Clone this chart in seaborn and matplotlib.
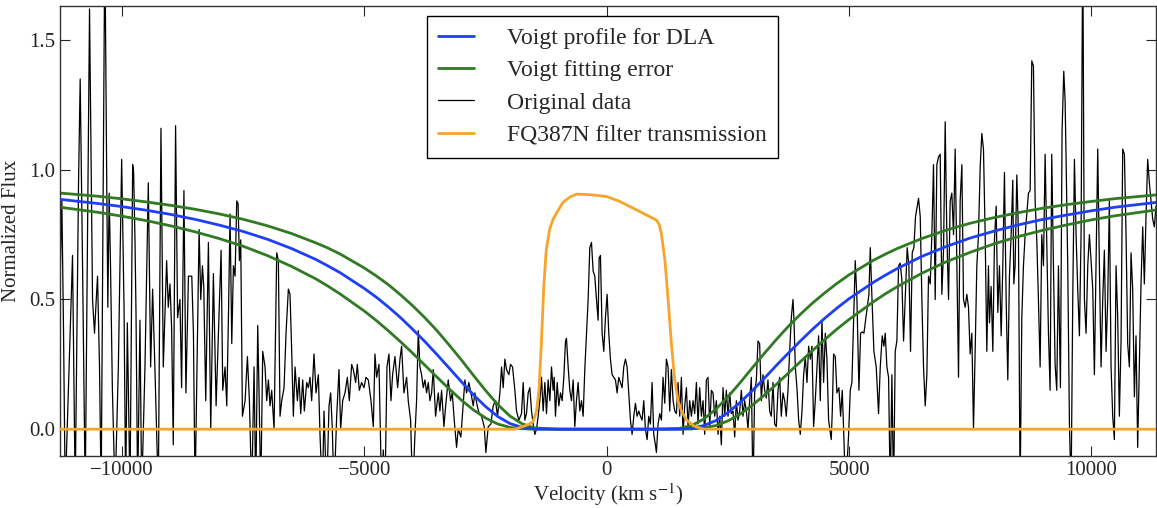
import numpy as np
import matplotlib
matplotlib.use("Agg")
import matplotlib.pyplot as plt
import seaborn as sns

# model curve samples (velocity in km/s)
model_vel = [-11330, -10500, -10000, -9500, -9000, -8500, -8000, -7500, -7000, -6500,
             -6000, -5750, -5500, -5000, -4750, -4500, -4250, -4000, -3750, -3500,
             -3250, -3000, -2750, -2500, -2250, -2000, -1750, -1500, -1000, 0,
             1000, 1500, 1750, 2000, 2250, 2500, 2750, 3000, 3250, 3500,
             3750, 4000, 4250, 4500, 4750, 5000, 5500, 5750, 6000, 6500,
             7000, 7500, 8000, 8500, 9000, 9500, 10000, 10500, 11330]
voigt_flux = [0.887, 0.870, 0.858, 0.844, 0.828, 0.809, 0.787, 0.762, 0.732, 0.696,
              0.654, 0.629, 0.603, 0.542, 0.508, 0.470, 0.429, 0.384, 0.337, 0.287,
              0.235, 0.183, 0.132, 0.087, 0.049, 0.022, 0.007, 0.001, 0.0, 0.0,
              0.0, 0.0005, 0.004, 0.014, 0.033, 0.064, 0.103, 0.148, 0.196, 0.246,
              0.294, 0.341, 0.386, 0.428, 0.467, 0.503, 0.566, 0.594, 0.620, 0.666,
              0.704, 0.737, 0.764, 0.788, 0.809, 0.826, 0.842, 0.856, 0.874]
err_hi = [0.911, 0.898, 0.888, 0.876, 0.863, 0.848, 0.830, 0.809, 0.784, 0.754,
          0.718, 0.698, 0.675, 0.621, 0.590, 0.556, 0.517, 0.475, 0.429, 0.379,
          0.324, 0.267, 0.207, 0.149, 0.095, 0.051, 0.021, 0.005, 0.0, 0.0,
          0.0, 0.003, 0.014, 0.039, 0.077, 0.125, 0.179, 0.236, 0.292, 0.346,
          0.397, 0.444, 0.487, 0.526, 0.562, 0.595, 0.651, 0.675, 0.697, 0.735,
          0.767, 0.794, 0.816, 0.835, 0.852, 0.866, 0.878, 0.889, 0.903]
err_lo = [0.857, 0.836, 0.821, 0.804, 0.784, 0.761, 0.735, 0.705, 0.669, 0.627,
          0.579, 0.551, 0.521, 0.455, 0.418, 0.378, 0.336, 0.292, 0.246, 0.200,
          0.155, 0.112, 0.074, 0.043, 0.020, 0.007, 0.002, 0.0, 0.0, 0.0,
          0.0, 0.0, 0.001, 0.005, 0.014, 0.032, 0.058, 0.092, 0.131, 0.173,
          0.217, 0.261, 0.304, 0.346, 0.386, 0.423, 0.491, 0.522, 0.550, 0.601,
          0.645, 0.682, 0.715, 0.743, 0.767, 0.788, 0.807, 0.823, 0.845]

# FQ387N filter curve
filt_vel = [-11330, -1900, -1700, -1600, -1520, -1450, -1400, -1350, -1300, -1250,
            -1180, -1107, -1000, -900, -760, -625, -450, -282, -7, 268,
            543, 818, 1024, 1080, 1127, 1200, 1265, 1333, 1402, 1470,
            1540, 1650, 1800, 2000, 11330]
filt_flux = [0.0, 0.0, 0.012, 0.02, 0.03, 0.07, 0.15, 0.33, 0.55, 0.69,
             0.77, 0.81, 0.845, 0.875, 0.895, 0.906, 0.905, 0.903, 0.897, 0.878,
             0.852, 0.826, 0.806, 0.79, 0.754, 0.65, 0.50, 0.33, 0.19, 0.11,
             0.07, 0.035, 0.012, 0.0, 0.0]

# original spectrum (values below -0.1 / above 1.63 are off the plot)
data_vel = [
    -11279, -11245, -11210, -11176, -11025, -10970, -10901, -10867, -10818, -10763,
    -10674, -10612, -10571, -10544, -10509, -10468, -10434, -10358, -10317, -10296,
    -10269, -10241, -10203, -10148, -10079, -10011, -9962, -9928, -9894, -9839,
    -9784, -9764, -9736, -9715, -9681, -9633, -9598, -9530, -9461, -9413,
    -9372, -9324, -9255, -9200, -9152, -9083, -9049, -9014, -8980, -8946,
    -8898, -8857, -8808, -8774, -8726, -8685, -8633, -8564, -8530, -8496,
    -8413, -8379, -8344, -8317, -8276, -8221, -8173, -8118, -8062, -8014,
    -7959, -7925, -7877, -7842, -7808, -7774, -7739, -7705, -7671, -7636,
    -7609, -7581, -7554, -7519, -7464, -7416, -7375, -7327, -7279, -7244,
    -7203, -7176, -7141, -7100, -7052, -7018, -6983, -6949, -6915, -6866,
    -6811, -6777, -6743, -6708, -6660, -6619, -6571, -6537, -6502, -6468,
    -6433, -6385, -6351, -6316, -6275, -6241, -6193, -6158, -6124, -6090,
    -6042, -6000, -5952, -5918, -5870, -5835, -5781, -5732, -5698, -5664,
    -5629, -5574, -5526, -5492, -5450, -5402, -5354, -5313, -5265, -5231,
    -5182, -5148, -5107, -5059, -5011, -4969, -4921, -4866, -4818, -4784,
    -4749, -4701, -4646, -4612, -4578, -4536, -4495, -4454, -4420, -4371,
    -4316, -4268, -4234, -4186, -4131, -4097, -4048, -4007, -3959, -3925,
    -3890, -3856, -3822, -3787, -3753, -3719, -3684, -3650, -3615, -3581,
    -3533, -3478, -3444, -3409, -3361, -3320, -3272, -3224, -3189, -3148,
    -3100, -3066, -3011, -2962, -2928, -2894, -2846, -2804, -2756, -2722,
    -2674, -2633, -2584, -2529, -2495, -2447, -2392, -2344, -2296, -2255,
    -2206, -2172, -2138, -2103, -2069, -2021, -1987, -1945, -1897, -1863,
    -1815, -1760, -1725, -1691, -1657, -1622, -1588, -1553, -1519, -1485,
    -1450, -1416, -1382, -1347, -1313, -1278, -1244, -1210, -1175, -1141,
    -1107, -1086, -1059, -1024, -990, -955, -921, -887, -852, -832,
    -797, -763, -729, -694, -660, -626, -591, -557, -522, -488,
    -454, -419, -385, -351, -316, -282, -248, -213, -179, -158,
    -131, -96, -62, -28, 7, 41, 75, 110, 144, 179,
    213, 247, 282, 316, 350, 385, 419, 453, 488, 522,
    557, 591, 625, 660, 694, 728, 763, 797, 832, 866,
    900, 935, 969, 1003, 1024, 1058, 1093, 1127, 1161, 1196,
    1230, 1264, 1299, 1333, 1368, 1402, 1436, 1471, 1505, 1539,
    1574, 1608, 1643, 1677, 1711, 1746, 1780, 1814, 1849, 1883,
    1917, 1952, 1986, 2021, 2055, 2089, 2124, 2158, 2192, 2227,
    2261, 2296, 2330, 2364, 2399, 2433, 2467, 2502, 2536, 2570,
    2605, 2639, 2673, 2708, 2742, 2777, 2811, 2845, 2880, 2914,
    2948, 2983, 3017, 3051, 3086, 3120, 3154, 3189, 3223, 3258,
    3292, 3326, 3361, 3395, 3430, 3464, 3498, 3533, 3567, 3601,
    3636, 3670, 3704, 3739, 3773, 3808, 3842, 3863, 3890, 3924,
    3959, 3993, 4028, 4062, 4096, 4131, 4165, 4199, 4234, 4268,
    4302, 4337, 4371, 4405, 4440, 4474, 4509, 4543, 4577, 4632,
    4653, 4680, 4715, 4749, 4790, 4825, 4859, 4894, 4928, 4990,
    5024, 5058, 5093, 5127, 5162, 5203, 5237, 5272, 5306, 5340,
    5375, 5409, 5437, 5471, 5512, 5560, 5608, 5643, 5684, 5718,
    5746, 5780, 5815, 5849, 5883, 5918, 5952, 5986, 6021, 6055,
    6089, 6124, 6165, 6199, 6234, 6268, 6303, 6337, 6371, 6406,
    6433, 6468, 6502, 6536, 6571, 6605, 6639, 6674, 6708, 6742,
    6777, 6811, 6846, 6880, 6914, 6949, 6983, 7017, 7052, 7086,
    7120, 7155, 7189, 7224, 7258, 7292, 7327, 7361, 7395, 7430,
    7464, 7498, 7533, 7567, 7601, 7636, 7670, 7705, 7739, 7773,
    7808, 7842, 7876, 7897, 7931, 7966, 8000, 8035, 8069, 8103,
    8138, 8172, 8206, 8241, 8275, 8309, 8344, 8378, 8399, 8426,
    8461, 8495, 8529, 8564, 8598, 8633, 8667, 8701, 8736, 8770,
    8804, 8839, 8873, 8907, 8942, 8976, 9011, 9045, 9079, 9114,
    9148, 9182, 9217, 9251, 9285, 9320, 9361, 9395, 9430, 9457,
    9478, 9512, 9547, 9581, 9615, 9650, 9684, 9718, 9753, 9787,
    9822, 9856, 9890, 9925, 9959, 9993, 10028, 10062, 10096, 10131,
    10165, 10200, 10234, 10268, 10303, 10337, 10371, 10406, 10440, 10474,
    10509, 10543, 10577, 10612, 10646, 10681, 10715, 10749, 10784, 10818,
    10852, 10887, 10921, 10955, 10990, 11024, 11059, 11093, 11127, 11162,
    11196, 11230, 11265, 11299, 11334,
]
data_flux = [
    0.59, 0.88, 0.37, -0.25, 0.67, -0.25, 0.95, 1.35, 0.63, -0.25,
    1.62, 0.50, 0.37, 0.47, 0.59, 0.24, -0.25, 1.90, 0.90, 0.47,
    0.91, 0.63, 0.16, -0.25, 0.24, 1.04, 0.47, -0.25, 0.41, -0.25,
    1.02, 0.99, 0.73, 0.45, -0.25, 0.42, -0.25, 0.24, 0.95, 0.24,
    0.54, 0.23, -0.25, 1.16, 0.24, 0.65, 0.47, 0.56, 0.39, -0.06,
    1.17, 0.43, 0.50, 0.16, 0.92, 0.14, 0.59, 0.59, 0.37, -0.25,
    0.77, 0.50, 0.63, 0.55, 0.11, 0.72, 0.00, 0.60, 0.09, 0.37,
    0.69, 0.15, 0.24, 0.09, 0.43, 0.83, 0.33, 0.63, 0.59, 0.88,
    0.87, 0.65, 0.73, 0.05, 0.11, 0.28, 0.11, -0.25, 0.24, -0.25,
    0.40, 0.14, -0.25, 0.30, 0.24, 0.11, 0.19, 0.09, 0.15, 0.00,
    0.68, 0.65, 0.05, 0.11, 0.16, 0.37, 0.54, 0.52, 0.30, 0.05,
    0.24, 0.11, 0.20, 0.06, 0.19, 0.07, 0.18, 0.16, 0.20, 0.11,
    0.29, 0.14, 0.21, -0.02, -0.25, 0.07, -0.25, 0.09, 0.14, 0.00,
    -0.25, 0.05, 0.23, 0.00, 0.11, 0.14, 0.20, 0.11, 0.25, 0.23,
    0.18, 0.25, 0.15, 0.18, 0.16, 0.20, 0.19, 0.11, 0.01, 0.29,
    0.20, 0.25, -0.25, -0.08, -0.25, 0.24, 0.29, 0.11, 0.21, 0.28,
    0.16, 0.27, 0.32, 0.14, 0.20, 0.11, 0.035, -0.25, -0.02, 0.11,
    0.38, 0.24, 0.21, 0.16, 0.19, 0.14, 0.18, 0.11, 0.14, 0.23,
    0.05, 0.14, 0.07, 0.15, 0.01, 0.10, 0.19, 0.11, 0.14, 0.035,
    -0.07, 0.00, -0.03, 0.10, 0.19, 0.14, 0.18, 0.14, 0.09, 0.14,
    0.09, 0.06, 0.05, 0.01, -0.09, 0.01, 0.02, 0.09, 0.11, 0.05,
    0.14, 0.24, 0.16, 0.27, 0.23, 0.21, 0.25, 0.24, 0.15, 0.07,
    0.035, 0.06, 0.18, 0.035, 0.06, 0.14, 0.16, 0.07, 0.02, -0.02,
    0.00, 0.05, 0.11, 0.20, 0.07, 0.18, 0.06, 0.19, 0.11, 0.24,
    0.15, 0.20, 0.05, 0.18, 0.09, 0.14, 0.11, 0.20, 0.34, 0.35,
    0.24, 0.15, 0.11, 0.19, 0.01, 0.11, 0.18, 0.07, 0.11, 0.05,
    0.23, 0.37, 0.50, 0.70, 0.72, 0.61, 0.59, 0.50, 0.42, 0.66,
    0.67, 0.37, 0.30, 0.43, 0.52, 0.37, 0.27, 0.21, 0.20, 0.19,
    0.14, 0.20, 0.18, 0.16, 0.24, 0.27, 0.24, 0.14, 0.035, -0.02,
    0.05, 0.10, 0.05, 0.07, 0.05, 0.035, 0.11, 0.00, -0.04, 0.05,
    0.02, 0.18, -0.02, -0.06, -0.09, 0.02, 0.06, 0.035, 0.20, 0.10,
    0.27, 0.24, 0.07, 0.23, 0.11, 0.07, 0.06, 0.18, 0.05, 0.20,
    -0.02, 0.09, 0.16, 0.01, 0.11, 0.05, 0.11, 0.06, 0.18, 0.02,
    0.16, 0.05, 0.11, -0.02, 0.19, 0.20, 0.01, 0.15, 0.14, 0.05,
    0.11, -0.02, 0.05, -0.06, 0.16, 0.05, 0.15, 0.05, 0.14, 0.06,
    0.07, -0.03, 0.11, 0.035, 0.07, 0.15, 0.05, 0.11, 0.07, 0.00,
    0.11, 0.20, -0.25, 0.14, 0.19, 0.34, 0.33, 0.11, 0.21, 0.15,
    0.12, 0.19, 0.07, 0.05, 0.18, 0.02, 0.01, 0.15, 0.20, 0.05,
    0.14, 0.11, 0.05, 0.15, 0.30, 0.43, 0.50, 0.42, 0.24, 0.16,
    0.035, -0.02, 0.07, 0.21, 0.28, 0.18, 0.32, 0.27, 0.32, 0.01,
    0.11, 0.24, 0.36, 0.11, 0.42, 0.18, 0.37, 0.27, 0.035, -0.04,
    0.07, 0.29, 0.28, 0.14, 0.16, 0.05, 0.15, -0.04, -0.25, -0.02,
    0.15, 0.18, 0.42, 0.65, 0.50, 0.15, 0.37, 0.375, 0.37, 0.42,
    0.47, 0.52, 0.70, 0.51, 0.30, 0.24, 0.06, 0.24, 0.36, 0.32,
    0.37, 0.24, 0.20, -0.25, 0.21, -0.25, 0.30, 0.34, 0.63, 0.64,
    0.575, 0.34, 0.54, 0.70, 0.63, 0.30, 0.68, 0.70, 0.82, 0.86,
    0.89, 0.82, 0.50, 0.24, 0.09, 0.21, 0.59, 0.56, 0.75, 1.02,
    0.50, 1.02, 1.05, 1.06, 0.52, 0.69, 1.185, 0.75, 0.50, 0.88,
    0.91, 0.75, 1.08, 0.63, 0.20, 0.88, 1.02, 0.50, 0.47, 0.52,
    0.47, 0.29, 0.37, 0.00, 0.30, 0.63, 0.75, 1.01, 1.14, 1.08,
    0.75, 0.30, 0.63, 0.41, 0.55, 0.30, 0.73, 0.86, 0.45, 0.63,
    0.36, 0.63, 0.99, 0.50, 0.19, 0.59, 0.75, 0.96, 0.56, 0.63,
    0.98, 0.75, -0.25, 0.43, 0.63, 0.75, 0.83, 0.91, 0.92, 1.42,
    1.40, 0.88, 0.73, 0.50, 0.24, 0.75, 0.63, 1.06, 0.73, 0.37,
    0.15, 1.06, 0.63, 0.25, 0.15, 0.63, 0.16, 1.15, 1.38, 1.27,
    1.04, 0.63, 0.02, -0.25, 0.50, 1.04, 0.75, 0.54, 0.36, 0.75,
    1.90, 0.50, 0.37, 0.63, 0.75, 0.65, 0.54, 0.21, 0.63, 1.08,
    0.63, 0.24, 0.50, 0.69, 0.30, 0.50, 0.88, 0.24, 0.05, -0.04,
    0.63, 0.43, 0.05, 0.34, 1.08, 1.06, 0.75, 0.33, 0.24, 0.68,
    0.54, 0.125, 0.36, -0.07, 0.24, 0.56, 0.78, 0.56, 0.82, 1.04,
    0.95, 0.88, 0.81, 0.78, 0.86,
]

sns.set_style("ticks")
plt.rcParams["font.family"] = ["Liberation Serif", "DejaVu Serif"]
plt.rcParams["mathtext.fontset"] = "stix"
plt.rcParams["xtick.direction"] = "in"
plt.rcParams["ytick.direction"] = "in"

fig, ax = plt.subplots(figsize=(11.57, 5.08), dpi=100)
fig.subplots_adjust(left=0.052, right=0.999, top=0.988, bottom=0.102)

sns.lineplot(x=data_vel, y=data_flux, ax=ax, color="black", linewidth=0.9,
             estimator=None, sort=False, label="Original data", zorder=1)
sns.lineplot(x=model_vel, y=err_lo, ax=ax, color="#2f7a22", linewidth=2,
             estimator=None, sort=False, zorder=2)
sns.lineplot(x=model_vel, y=err_hi, ax=ax, color="#2f7a22", linewidth=2,
             estimator=None, sort=False, label="Voigt fitting error", zorder=2)
sns.lineplot(x=model_vel, y=voigt_flux, ax=ax, color="#1e3ff5", linewidth=2,
             estimator=None, sort=False, label="Voigt profile for DLA", zorder=3)
sns.lineplot(x=filt_vel, y=filt_flux, ax=ax, color="#f7a52a", linewidth=2,
             estimator=None, sort=False, label="FQ387N filter transmission", zorder=4)

ax.set_xlim(-11280, 11330)
ax.set_ylim(-0.104, 1.631)
ax.set_xticks([-10000, -5000, 0, 5000, 10000])
ax.set_yticks([0.0, 0.5, 1.0, 1.5])
ax.set_yticklabels(["0.0", "0.5", "1.0", "1.5"])
ax.tick_params(axis="both", which="major", labelsize=15, length=7, width=0.8,
               top=True, right=True, direction="in")
for sp in ax.spines.values():
    sp.set_visible(True)
    sp.set_linewidth(1.0)
    sp.set_color("#333333")

ax.set_xlabel("Velocity (km s$^{-1}$)", fontsize=15, labelpad=1)
ax.set_ylabel("Normalized Flux", fontsize=15, labelpad=6)

handles, labels = ax.get_legend_handles_labels()
order = ["Voigt profile for DLA", "Voigt fitting error", "Original data",
         "FQ387N filter transmission"]
hmap = dict(zip(labels, handles))
leg = ax.legend([hmap[k] for k in order], order, loc="upper center",
                bbox_to_anchor=(0.495, 0.978), borderaxespad=0, fontsize=17,
                fancybox=False, framealpha=1, edgecolor="black",
                handlelength=1.5, handletextpad=1.4, labelspacing=0.45,
                borderpad=0.5)
leg.get_frame().set_linewidth(1.0)

fig.savefig("out.png", dpi=100)
